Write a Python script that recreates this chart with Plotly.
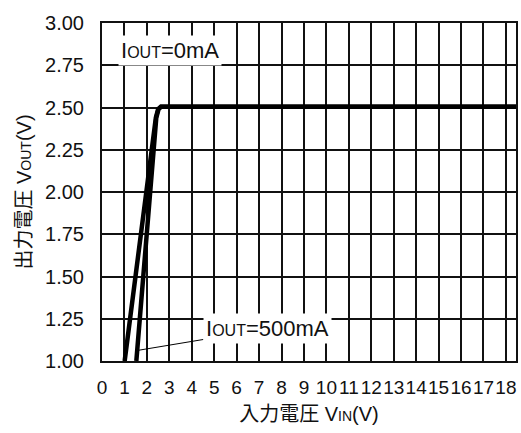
import plotly.graph_objects as go

# Data
vin_0mA = [1.01, 1.68, 2.10, 2.40, 2.50, 2.62, 18.45]
vout_0mA = [1.00, 1.715, 2.13, 2.44, 2.49, 2.505, 2.505]
vin_500mA = [1.53, 1.98, 2.20, 2.42, 2.52, 2.64, 18.45]
vout_500mA = [1.00, 1.715, 2.13, 2.44, 2.49, 2.505, 2.505]

x_ticks = list(range(0, 19))
y_ticks = [1.00, 1.25, 1.50, 1.75, 2.00, 2.25, 2.50, 2.75, 3.00]

FONT = "Liberation Sans, Arial, Noto Sans CJK JP, sans-serif"
SC = lambda s, size: f'<span style="font-size:{size}px">{s}</span>'

fig = go.Figure()
fig.add_trace(go.Scatter(x=vin_0mA, y=vout_0mA, mode="lines",
                         line=dict(color="black", width=4.5), showlegend=False))
fig.add_trace(go.Scatter(x=vin_500mA, y=vout_500mA, mode="lines",
                         line=dict(color="black", width=4.5), showlegend=False))

fig.add_annotation(x=3.02, y=2.84, xref="x", yref="y",
                   text="I" + SC("OUT", 16) + "=0mA", showarrow=False,
                   font=dict(family=FONT, size=22, color="#111"),
                   bgcolor="white", borderpad=2)
fig.add_annotation(x=1.605, y=1.063, xref="x", yref="y",
                   ax=7.36, ay=1.19, axref="x", ayref="y",
                   text="I" + SC("OUT", 16) + "=500mA", showarrow=True,
                   arrowhead=0, arrowwidth=1, arrowcolor="black",
                   font=dict(family=FONT, size=22, color="#111"),
                   bgcolor="white", borderpad=2)

fig.update_layout(
    width=521, height=433,
    margin=dict(l=102, r=5, t=23, b=72),
    paper_bgcolor="white", plot_bgcolor="white",
    font=dict(family=FONT, size=20, color="#111"),
    xaxis=dict(range=[0, 18.45], tickmode="array", tickvals=x_ticks,
               ticktext=[str(v) for v in x_ticks], tickangle=0,
               showgrid=True, gridcolor="#111", gridwidth=2,
               showline=True, linecolor="#111", linewidth=2, mirror=True,
               ticks="outside", ticklen=8, tickcolor="white",
               tickfont=dict(size=19), automargin=False,
               title=dict(text="入力電圧 V" + SC("IN", 14) + "(V)",
                          font=dict(size=20), standoff=10),
               zeroline=False, fixedrange=True),
    yaxis=dict(range=[1, 3], tickmode="array", tickvals=y_ticks,
               ticktext=[f"{v:.2f}" for v in y_ticks],
               showgrid=True, gridcolor="#111", gridwidth=2,
               showline=True, linecolor="#111", linewidth=2, mirror=True,
               ticks="outside", ticklen=12, tickcolor="white",
               tickfont=dict(size=20), automargin=False,
               title=dict(text="出力電圧 V" + SC("OUT", 14) + "(V)",
                          font=dict(size=20), standoff=8),
               zeroline=False, fixedrange=True),
)

fig.write_html("out.html")
